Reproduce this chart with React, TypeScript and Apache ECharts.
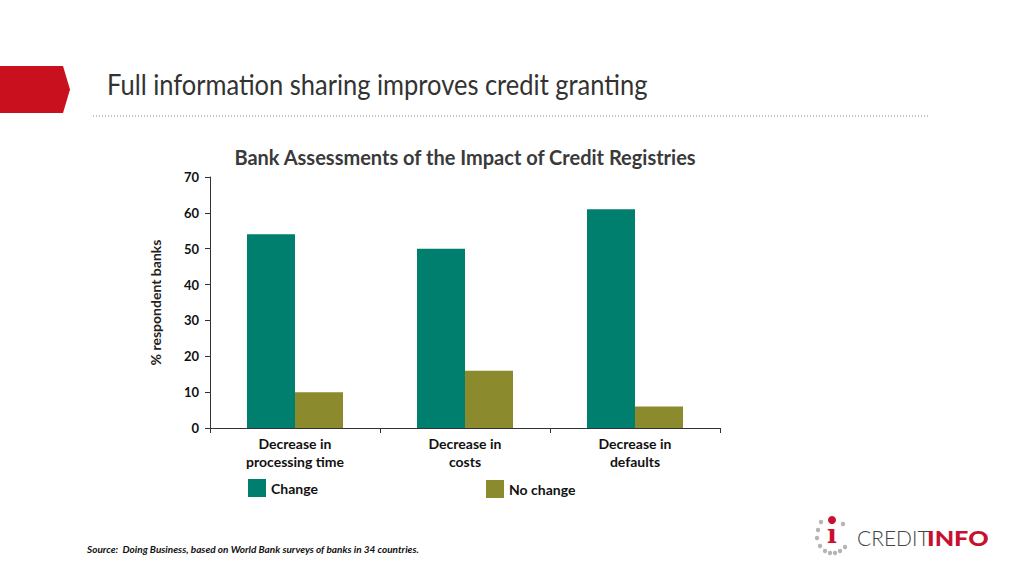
import React, { useEffect, useRef } from "react";
import * as echarts from "echarts";

const categories = ["Decrease in\nprocessing time", "Decrease in\ncosts", "Decrease in\ndefaults"];
const changeValues = [54, 50, 61];
const noChangeValues = [10, 16, 6];
const yTicks = { min: 0, max: 70, interval: 10 };

const TEAL = "#007f6e";
const OLIVE = "#8b8a2c";

export default function App() {
  const ref = useRef<HTMLDivElement>(null);
  useEffect(() => {
    const chart = echarts.init(ref.current!, null, { renderer: "svg" });
    const grayDots = [
      [821, 522], [843, 524], [818, 530], [817, 538], [820, 546],
      [825, 551], [830, 553], [835, 553], [840, 551], [845, 547],
    ];
    chart.setOption({
      animation: false,
      backgroundColor: "#ffffff",
      title: {
        text: "Bank Assessments of the Impact of Credit Registries",
        left: 460,
        textAlign: "center",
        top: 142,
        textStyle: { fontFamily: "Lato", fontWeight: "bold", fontSize: 20, color: "#3a3a3a" },
      },
      grid: { left: 210, right: 304, top: 177, bottom: 148 },
      legend: [
        {
          data: ["Change"], left: 248, top: 479, padding: 0, itemWidth: 18, itemHeight: 18, icon: "rect",
          textStyle: { fontFamily: "Lato", fontWeight: "bold", fontSize: 14, color: "#111" },
        },
        {
          data: ["No change"], left: 486, top: 480, padding: 0, itemWidth: 18, itemHeight: 18, icon: "rect",
          textStyle: { fontFamily: "Lato", fontWeight: "bold", fontSize: 14, color: "#111", padding: [0, 0, 0, 0] },
        },
      ],
      xAxis: {
        type: "category",
        data: categories,
        axisLine: { lineStyle: { color: "#333", width: 1 } },
        axisTick: { show: true, length: 5, lineStyle: { color: "#333" } },
        axisLabel: {
          fontFamily: "Lato", fontWeight: "bold", fontSize: 14, color: "#111",
          lineHeight: 18, margin: 6, interval: 0,
        },
      },
      yAxis: {
        type: "value",
        min: yTicks.min, max: yTicks.max, interval: yTicks.interval,
        name: "% respondent banks",
        nameLocation: "middle",
        nameGap: 48,
        nameRotate: 90,
        nameTextStyle: { fontFamily: "Lato", fontWeight: "bold", fontSize: 14, color: "#222" },
        axisLine: { show: true, lineStyle: { color: "#333", width: 1 } },
        axisTick: { show: true, length: 5, lineStyle: { color: "#333" } },
        splitLine: { show: false },
        axisLabel: { fontFamily: "Lato", fontWeight: "bold", fontSize: 13, color: "#111", margin: 11 },
      },
      series: [
        { name: "Change", type: "bar", data: changeValues, barWidth: 48, barGap: "0%", itemStyle: { color: TEAL } },
        { name: "No change", type: "bar", data: noChangeValues, barWidth: 48, barGap: "0%", itemStyle: { color: OLIVE } },
      ],
      graphic: [
        {
          type: "polygon",
          shape: { points: [[0, 66], [63, 66], [70, 89.5], [63, 113], [0, 113]] },
          style: { fill: "#c8101e" },
        },
        {
          type: "text", x: 107, y: 71, scaleX: 0.91,
          style: { text: "Full information sharing improves credit granting", fontFamily: "Lato", fontSize: 28, fill: "#333", letterSpacing: -1, verticalAlign: "top" },
        },
        {
          type: "line",
          shape: { x1: 93, y1: 116, x2: 930, y2: 116 },
          style: { stroke: "#888", lineWidth: 1, lineDash: [1, 2] },
        },
        {
          type: "text", left: 87, top: 544,
          style: {
            text: "Source:  Doing Business, based on World Bank surveys of banks in 34 countries.",
            fontFamily: "Lato", fontStyle: "italic", fontWeight: "bold", fontSize: 10, fill: "#111",
          },
        },
        ...grayDots.map(([x, y]) => ({
          type: "circle", shape: { cx: x, cy: y, r: 2.2 }, style: { fill: "#b5b5b5" },
        })),
        { type: "circle", shape: { cx: 832, cy: 520, r: 4 }, style: { fill: "#c8102e" } },
        {
          type: "text", x: 832, y: 547,
          style: { text: "ı", fontFamily: "DejaVu Serif", fontWeight: "bold", fontSize: 26, fill: "#c8102e", align: "center", verticalAlign: "bottom" },
        },
        {
          type: "text", x: 857, y: 548,
          style: { text: "CREDIT", fontFamily: "Lato", fontWeight: 300, fontSize: 21, fill: "#444", verticalAlign: "bottom" },
        },
        {
          type: "text", x: 927, y: 548, scaleX: 1.2,
          style: { text: "INFO", fontFamily: "Lato", fontWeight: 900, fontSize: 21, fill: "#c8102e", verticalAlign: "bottom" },
        },
      ],
    });
    return () => chart.dispose();
  }, []);
  return <div ref={ref} style={{ position: "absolute", left: 0, top: 0, width: 1024, height: 576 }} />;
}
